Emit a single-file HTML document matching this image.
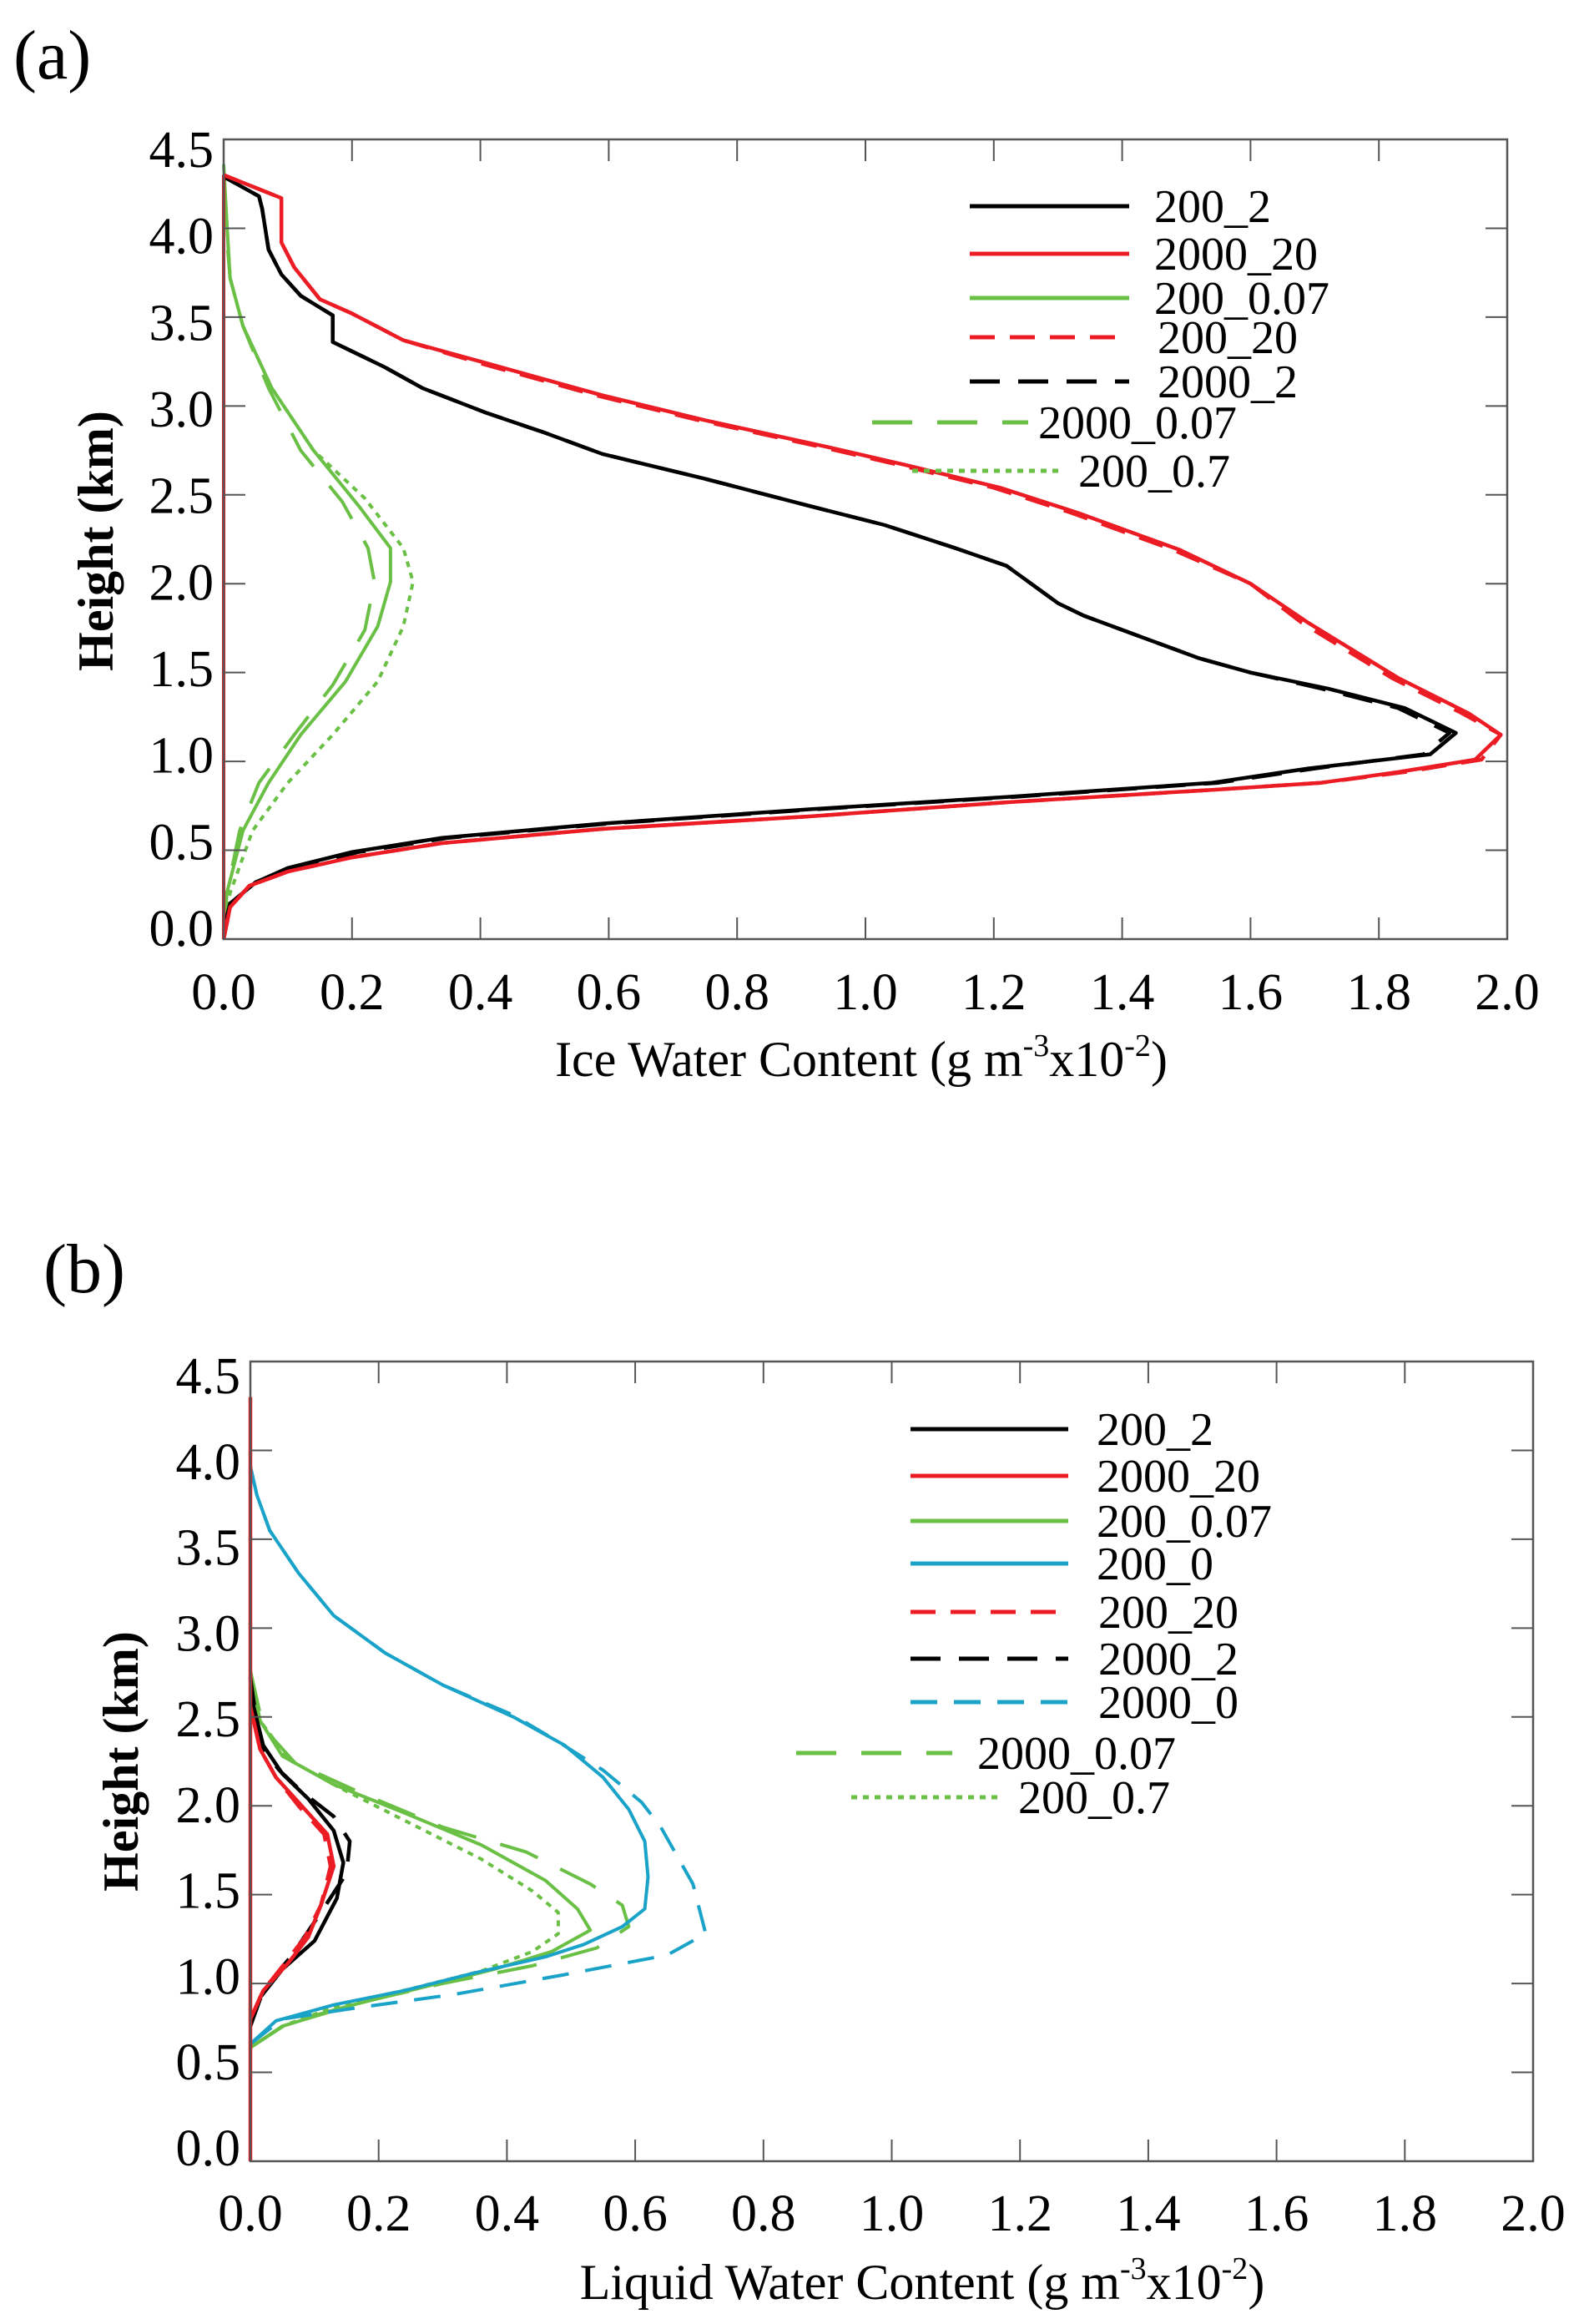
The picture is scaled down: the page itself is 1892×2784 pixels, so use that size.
<!DOCTYPE html>
<html><head><meta charset="utf-8">
<style>
html,body{margin:0;padding:0;background:#fff;}
svg{display:block;}
text{font-family:"Liberation Serif","DejaVu Serif",serif;fill:#000;}
</style></head>
<body>
<svg id="fig" width="1892" height="2784" viewBox="0 0 1892 2784" xmlns="http://www.w3.org/2000/svg">
<text x="16" y="94" font-size="84">(a)</text>
<text x="52" y="1548" font-size="84">(b)</text>
</svg>
<script>
// ---------- shared ticks ----------
const xTicks = [0,0.2,0.4,0.6,0.8,1.0,1.2,1.4,1.6,1.8,2.0];
const yTicks = [0,0.5,1.0,1.5,2.0,2.5,3.0,3.5,4.0,4.5];
// ---------- panel (a): ice water content ----------
const aBlackH = [0.05,0.2,0.32,0.4,0.49,0.57,0.65,0.73,0.8,0.88,0.96,1.04,1.16,1.3,1.41,1.5,1.58,1.7,1.82,1.89,2.1,2.2,2.33,2.44,2.59,2.73,2.85,2.96,3.1,3.22,3.36,3.51,3.62,3.74,3.88,4.11,4.18,4.29];
const aBlackV = [0,0.01,0.05,0.1,0.2,0.34,0.59,0.91,1.22,1.54,1.69,1.88,1.92,1.84,1.72,1.6,1.52,1.43,1.34,1.3,1.22,1.14,1.03,0.91,0.75,0.59,0.5,0.41,0.31,0.25,0.17,0.17,0.12,0.09,0.07,0.06,0.055,0];
const aBlackDV = [0,0.01,0.05,0.11,0.21,0.35,0.6,0.92,1.23,1.55,1.7,1.87,1.91,1.83,1.71,1.6,1.52,1.43,1.34,1.3,1.22,1.14,1.03,0.91,0.75,0.59,0.5,0.41,0.31,0.25,0.17,0.17,0.12,0.09,0.07,0.06,0.055,0];
const aRedH = [0,0.18,0.3,0.38,0.46,0.54,0.62,0.69,0.77,0.84,0.88,0.94,1.01,1.15,1.27,1.47,1.78,2.0,2.19,2.4,2.54,2.67,2.77,2.92,3.06,3.24,3.37,3.52,3.6,3.78,3.92,4.17,4.3];
const aRedV = [0,0.01,0.04,0.1,0.2,0.34,0.59,0.91,1.22,1.54,1.71,1.83,1.95,1.99,1.94,1.83,1.69,1.6,1.49,1.33,1.21,1.06,0.94,0.75,0.59,0.41,0.28,0.2,0.15,0.11,0.09,0.09,0];
const aRedDV = [0,0.01,0.04,0.1,0.2,0.34,0.59,0.91,1.22,1.54,1.71,1.84,1.96,1.99,1.93,1.82,1.68,1.6,1.48,1.32,1.2,1.05,0.93,0.74,0.58,0.4,0.28,0.2,0.15,0.11,0.09,0.09,0];
const aGreenH = [0.05,0.26,0.61,0.88,1.15,1.45,1.76,2.01,2.2,2.44,2.75,3.1,3.45,3.72,4.03,4.36];
const aGreenV = [0,0.005,0.03,0.07,0.12,0.19,0.24,0.26,0.26,0.21,0.14,0.075,0.03,0.01,0.005,0];
const aGreenDH = [0.05,0.26,0.61,0.88,1.15,1.43,1.74,2.01,2.2,2.46,2.75,3.1,3.45,3.72,4.03,4.3];
const aGreenDV = [0,0.005,0.025,0.055,0.11,0.17,0.22,0.235,0.225,0.185,0.12,0.07,0.03,0.01,0.003,0];
const aDotH = [0.05,0.26,0.61,0.88,1.15,1.45,1.76,2.01,2.2,2.48,2.75,3.1,3.45,3.72,4.03,4.3];
const aDotV = [0,0.01,0.045,0.1,0.17,0.24,0.28,0.295,0.28,0.22,0.14,0.075,0.03,0.01,0.005,0];
const aZeroH = [0,4.3];
const aZeroV = [0,0];
// ---------- panel (b): liquid water content ----------
const bCyanH = [0.66,0.79,0.88,0.96,1.06,1.15,1.22,1.32,1.42,1.6,1.8,1.98,2.16,2.34,2.5,2.68,2.86,3.07,3.31,3.55,3.75,3.91];
const bCyanV = [0,0.04,0.13,0.24,0.35,0.46,0.52,0.58,0.615,0.62,0.615,0.59,0.55,0.49,0.41,0.3,0.21,0.13,0.075,0.03,0.01,0];
const bCyanDH = [0.66,0.8,0.86,0.94,1.05,1.16,1.28,1.56,1.88,2.02,2.2,2.36,2.51,2.68,2.86,3.07,3.31,3.55,3.75,3.91];
const bCyanDV = [0,0.05,0.16,0.32,0.49,0.65,0.71,0.69,0.64,0.61,0.55,0.48,0.41,0.3,0.21,0.13,0.075,0.03,0.01,0];
const bGreenH = [0.64,0.76,0.88,0.98,1.08,1.18,1.3,1.42,1.58,1.78,1.96,2.12,2.28,2.48,2.76];
const bGreenV = [0,0.05,0.16,0.27,0.38,0.47,0.53,0.51,0.46,0.36,0.24,0.13,0.05,0.015,0];
const bGreenDH = [0.64,0.78,0.9,1.0,1.1,1.2,1.32,1.44,1.56,1.74,1.88,2.06,2.24,2.44,2.76];
const bGreenDV = [0,0.06,0.18,0.3,0.44,0.54,0.59,0.58,0.53,0.43,0.3,0.18,0.07,0.02,0];
const bDotH = [0.64,0.76,0.88,0.97,1.07,1.18,1.28,1.4,1.52,1.7,1.9,2.1,2.26,2.48,2.76];
const bDotV = [0,0.05,0.14,0.25,0.36,0.44,0.48,0.48,0.44,0.36,0.25,0.14,0.06,0.015,0];
const bBlackH = [0.76,0.92,1.08,1.24,1.48,1.68,1.86,2.04,2.18,2.34,2.56,2.72];
const bBlackV = [0,0.015,0.05,0.1,0.135,0.145,0.13,0.09,0.05,0.02,0.005,0];
const bBlackDH = [0.76,0.96,1.16,1.4,1.62,1.8,1.94,2.08,2.2,2.34,2.72];
const bBlackDV = [0,0.02,0.065,0.11,0.15,0.155,0.13,0.08,0.045,0.015,0];
const bRedH = [0.8,0.96,1.12,1.26,1.44,1.66,1.84,2.0,2.16,2.32,2.56];
const bRedV = [0,0.02,0.06,0.09,0.11,0.13,0.12,0.08,0.04,0.015,0];
const bRedDV = [0,0.02,0.055,0.085,0.11,0.125,0.115,0.075,0.04,0.015,0];
const bZeroH = [0,4.3];
const bZeroV = [0,0];

const NS = "http://www.w3.org/2000/svg";
const svg = document.getElementById('fig');
function mk(tag, attrs, parent){
  const e = document.createElementNS(NS, tag);
  for (const k in attrs) e.setAttribute(k, attrs[k]);
  (parent||svg).appendChild(e);
  return e;
}
const BLACK="#000000", RED="#ec1c24", GREEN="#6abf45", CYAN="#1aa3c8";
const DASH_RED="30 18", DASH_BLACK="36 22", DASH_GREEN="48 30", DOT="7 7", DASH_CYAN="32 20";

function panel(P){
  const g = mk('g', {});
  
  
  const xs = v => P.L + v/2.0*(P.R-P.L);
  const ys = v => P.B - v/4.5*(P.B-P.T);
  P.series.forEach(s=>{
    let d = '';
    s.h.forEach((h,i)=>{ d += (i?'L':'M') + xs(s.v[i]).toFixed(1) + ' ' + ys(h).toFixed(1) + ' '; });
    const p = mk('path', {d:d, fill:'none', stroke:s.c, 'stroke-width':s.w||4.5, 'stroke-linejoin':'round', 'stroke-dasharray':s.dash||'none'}, g);
    
    
  });
  const fr = mk('rect', {x:P.L, y:P.T, width:P.R-P.L, height:P.B-P.T, fill:'none', stroke:'#555', 'stroke-width':2.5}, g);
  
  
  xTicks.forEach(t=>{
    const x = xs(t);
    mk('line', {x1:x, y1:P.B, x2:x, y2:P.B-26, stroke:'#555', 'stroke-width':2}, g);
    mk('line', {x1:x, y1:P.T, x2:x, y2:P.T+26, stroke:'#555', 'stroke-width':2}, g);
    const tx = mk('text', {x:x, y:P.xLabY, 'font-size':62, 'text-anchor':'middle'}, g);
    tx.textContent = t.toFixed(1);
    
    
  });
  yTicks.forEach(t=>{
    const y = ys(t);
    mk('line', {x1:P.L, y1:y, x2:P.L+26, y2:y, stroke:'#555', 'stroke-width':2}, g);
    mk('line', {x1:P.R, y1:y, x2:P.R-26, y2:y, stroke:'#555', 'stroke-width':2}, g);
    const cy = P.yLabTop + (4.5-t)/4.5*(P.yLabBot-P.yLabTop);
    const tx = mk('text', {x:P.L-12, y:cy+21, 'font-size':62, 'text-anchor':'end'}, g);
    tx.textContent = t.toFixed(1);
    
    
  });
  const xt = mk('text', {x:P.xTitleX, y:P.xTitleY, 'font-size':60, 'text-anchor':'middle'}, g);
  
  
  xt.innerHTML = P.xTitle + ' (g m<tspan dy="-24" font-size="38">-3</tspan><tspan dy="24">x10</tspan><tspan dy="-24" font-size="38">-2</tspan><tspan dy="24">)</tspan>';
  const yt = mk('text', {x:0, y:0, 'font-size':60, 'font-weight':'bold', 'text-anchor':'middle', transform:'translate(' + (P.yTitleX+20) + ',' + P.yTitleY + ') rotate(-90)'}, g);
  yt.textContent = 'Height (km)';
  
  
  P.legend.forEach(e=>{
    const lg = mk('g', {}, g);
    
    
    mk('line', {x1:e.x1, y1:e.y, x2:e.x2, y2:e.y, stroke:e.c, 'stroke-width':5, 'stroke-dasharray':e.dash||'none'}, lg);
    const t = mk('text', {x:e.tx, y:e.y+19, 'font-size':56}, lg);
    t.textContent = e.label;
  });
}

panel({
  id:'ice-water-content', L:268, R:1806, T:167, B:1125,
  xLabY:1209, yLabTop:179, yLabBot:1112,
  xTitle:'Ice Water Content', xTitleX:1032, xTitleY:1289, yTitleX:115, yTitleY:648,
  series:[
    {name:'200_0.7', h:aDotH, v:aDotV, c:GREEN, dash:DOT, w:4},
    {name:'2000_0.07', h:aGreenDH, v:aGreenDV, c:GREEN, dash:DASH_GREEN, w:4},
    {name:'200_0.07', h:aGreenH, v:aGreenV, c:GREEN, w:4},
    {name:'2000_2', h:aBlackH, v:aBlackDV, c:BLACK, dash:DASH_BLACK},
    {name:'200_2', h:aBlackH, v:aBlackV, c:BLACK},
    {name:'200_20', h:aRedH, v:aRedDV, c:RED, dash:DASH_RED},
    {name:'2000_20', h:aRedH, v:aRedV, c:RED},
    {name:'zero-line', h:aZeroH, v:aZeroV, c:RED, w:4}
  ],
  legend:[
    {x1:1162,x2:1353,tx:1383,y:247,c:BLACK,label:'200_2'},
    {x1:1162,x2:1353,tx:1383,y:304,c:RED,label:'2000_20'},
    {x1:1162,x2:1353,tx:1383,y:357,c:GREEN,label:'200_0.07'},
    {x1:1162,x2:1353,tx:1387,y:404,c:RED,dash:DASH_RED,label:'200_20'},
    {x1:1162,x2:1353,tx:1387,y:457,c:BLACK,dash:DASH_BLACK,label:'2000_2'},
    {x1:1045,x2:1232,tx:1244,y:506,c:GREEN,dash:DASH_GREEN,label:'2000_0.07'},
    {x1:1093,x2:1274,tx:1292,y:564,c:GREEN,dash:DOT,label:'200_0.7'}
  ]
});

panel({
  id:'liquid-water-content', L:300, R:1837, T:1631, B:2589,
  xLabY:2672, yLabTop:1648, yLabBot:2573,
  xTitle:'Liquid Water Content', xTitleX:1105, xTitleY:2754, yTitleX:145, yTitleY:2110,
  series:[
    {name:'200_0.7', h:bDotH, v:bDotV, c:GREEN, dash:DOT, w:4},
    {name:'2000_0.07', h:bGreenDH, v:bGreenDV, c:GREEN, dash:DASH_GREEN, w:4},
    {name:'200_0.07', h:bGreenH, v:bGreenV, c:GREEN, w:4},
    {name:'2000_0', h:bCyanDH, v:bCyanDV, c:CYAN, dash:DASH_CYAN, w:4},
    {name:'200_0', h:bCyanH, v:bCyanV, c:CYAN, w:4},
    {name:'2000_2', h:bBlackDH, v:bBlackDV, c:BLACK, dash:DASH_BLACK},
    {name:'200_2', h:bBlackH, v:bBlackV, c:BLACK},
    {name:'200_20', h:bRedH, v:bRedDV, c:RED, dash:DASH_RED},
    {name:'2000_20', h:bRedH, v:bRedV, c:RED},
    {name:'zero-line', h:bZeroH, v:bZeroV, c:RED, w:4.5},
    {name:'zero-line-green', h:bZeroH, v:bZeroV, c:GREEN, dash:DASH_GREEN, w:2}
  ],
  legend:[
    {x1:1091,x2:1280,tx:1314,y:1712,c:BLACK,label:'200_2'},
    {x1:1091,x2:1280,tx:1314,y:1768,c:RED,label:'2000_20'},
    {x1:1091,x2:1280,tx:1314,y:1822,c:GREEN,label:'200_0.07'},
    {x1:1091,x2:1280,tx:1314,y:1873,c:CYAN,label:'200_0'},
    {x1:1091,x2:1280,tx:1316,y:1931,c:RED,dash:DASH_RED,label:'200_20'},
    {x1:1091,x2:1280,tx:1316,y:1987,c:BLACK,dash:DASH_BLACK,label:'2000_2'},
    {x1:1091,x2:1280,tx:1316,y:2039,c:CYAN,dash:DASH_CYAN,label:'2000_0'},
    {x1:954,x2:1141,tx:1171,y:2100,c:GREEN,dash:DASH_GREEN,label:'2000_0.07'},
    {x1:1020,x2:1202,tx:1220,y:2153,c:GREEN,dash:DOT,label:'200_0.7'}
  ]
});
</script>
</body></html>
